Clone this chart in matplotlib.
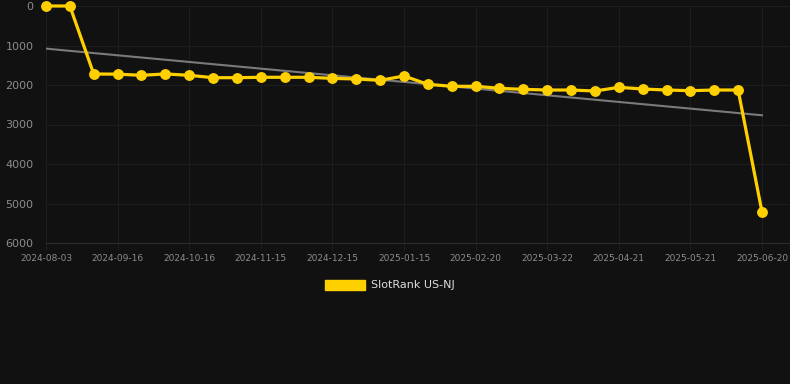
import numpy as np
import matplotlib
matplotlib.use("Agg")
from matplotlib import pyplot as plt
from matplotlib.patches import Patch

# data
dates = ["2024-08-03", "2024-08-18", "2024-09-01", "2024-09-16", "2024-09-26", "2024-10-06",
         "2024-10-16", "2024-10-26", "2024-11-05", "2024-11-15", "2024-11-25", "2024-12-05",
         "2024-12-15", "2024-12-25", "2025-01-05", "2025-01-15", "2025-01-27", "2025-02-08",
         "2025-02-20", "2025-03-02", "2025-03-12", "2025-03-22", "2025-04-01", "2025-04-11",
         "2025-04-21", "2025-05-01", "2025-05-11", "2025-05-21", "2025-05-31", "2025-06-10",
         "2025-06-20"]
rank = [0, 0, 1722, 1725, 1755, 1720, 1755, 1815, 1815, 1805, 1805, 1805, 1832, 1848, 1882,
        1772, 1983, 2033, 2033, 2084, 2110, 2127, 2127, 2152, 2059, 2101, 2127, 2144, 2127,
        2127, 5215]
y_ticks = [0, 1000, 2000, 3000, 4000, 5000, 6000]
series_name = "SlotRank US-NJ"

bg = "#111111"
yellow = "#FFD000"
grid_c = "#1d1d1d"
label_c = "#8c8c8c"

W, H = 790, 384
fig = plt.figure(figsize=(W / 100, H / 100), dpi=100, facecolor=bg)
# axes box in pixel coords
left, right, top, bottom = 46, 790, 6, 243
ax = fig.add_axes([left / W, 1 - bottom / H, (right - left) / W, (bottom - top) / H])
ax.set_facecolor(bg)

x = np.arange(len(rank))
y = np.array(rank, dtype=float)

# trend line (linear fit of the series)
k, b = np.polyfit(x, y, 1)
ax.plot(x, k * x + b, color="#7a7a7a", lw=1.5, zorder=2)

ax.plot(x, y, color=yellow, lw=2.3, marker="o", markersize=6.8, clip_on=False, zorder=3)

# x-range so that last point sits at px 762
ax.set_xlim(0, (len(rank) - 1) * (right - left) / (762 - left))
ax.set_ylim(6000, 0)

ax.set_yticks(y_ticks)
ax.set_yticklabels([str(v) for v in y_ticks])
tick_idx = list(range(0, len(dates), 3))
ax.set_xticks(tick_idx)
ax.set_xticklabels([dates[i] for i in tick_idx])

ax.tick_params(axis="y", colors=label_c, labelsize=8, length=0, pad=9)
ax.tick_params(axis="x", colors=grid_c, labelcolor=label_c, labelsize=6.5, length=5, width=0.8, pad=3)
ax.grid(True, color=grid_c, lw=0.8)
for s in ax.spines.values():
    s.set_visible(False)
ax.spines["bottom"].set_visible(True)
ax.spines["bottom"].set_color("#2c2c2c")
ax.spines["bottom"].set_linewidth(0.8)

fig.legend(handles=[Patch(facecolor=yellow, edgecolor=yellow)], labels=[series_name],
           loc="center", bbox_to_anchor=(390 / W, 1 - 285 / H), frameon=False,
           fontsize=8, labelcolor="#dddddd", handlelength=3.6, handleheight=1.0,
           handletextpad=0.5)

fig.savefig("out.png", dpi=100, facecolor=bg)
